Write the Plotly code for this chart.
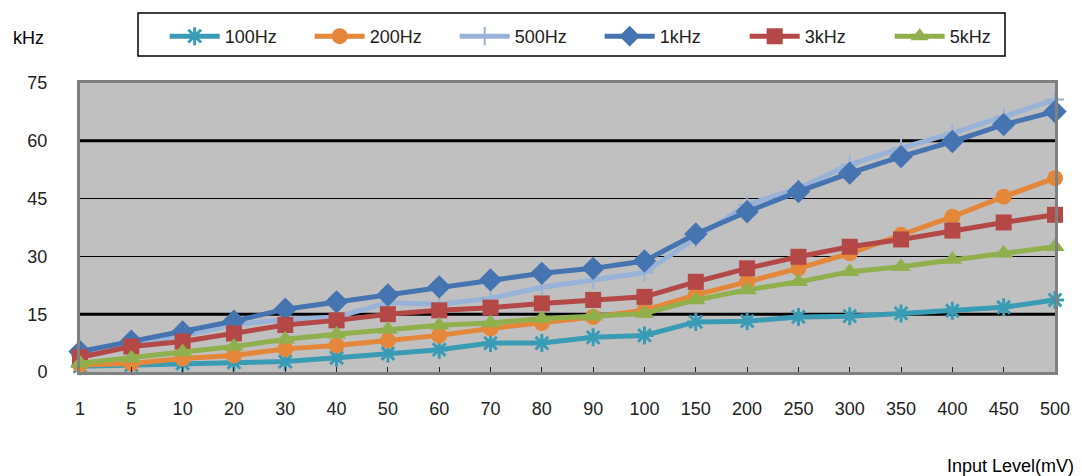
import plotly.graph_objects as go

# Input level categories (mV)
levels = ["1", "5", "10", "20", "30", "40", "50", "60", "70", "80",
          "90", "100", "150", "200", "250", "300", "350", "400", "450", "500"]

# Measured output (kHz) for each test frequency
hz100 = [1.5, 1.8, 2.2, 2.5, 2.7, 3.7, 4.8, 5.8, 7.5, 7.5,
         9.0, 9.5, 13.0, 13.2, 14.3, 14.5, 15.2, 15.9, 16.8, 18.7]
hz200 = [1.8, 2.2, 3.5, 4.3, 6.0, 6.9, 8.2, 9.5, 11.3, 12.7,
         14.3, 16.0, 20.0, 23.4, 26.9, 30.8, 35.6, 40.3, 45.5, 50.3]
hz500 = [4.3, 7.3, 9.3, 12.3, 13.6, 14.3, 18.0, 17.6, 19.1, 22.0,
         23.9, 25.8, 34.7, 43.4, 47.7, 53.8, 58.1, 62.0, 66.3, 70.7]
khz1 = [5.3, 8.0, 10.4, 13.2, 16.3, 18.2, 20.0, 22.1, 23.9, 25.6,
        26.9, 28.8, 35.8, 41.6, 46.8, 51.6, 55.9, 59.8, 64.2, 67.6]
khz3 = [3.8, 6.6, 7.9, 10.0, 12.2, 13.4, 15.0, 16.0, 16.7, 17.8,
        18.7, 19.5, 23.4, 26.9, 29.9, 32.5, 34.4, 36.7, 38.8, 40.8]
khz5 = [2.3, 3.6, 5.2, 6.6, 8.5, 9.8, 11.0, 12.1, 12.7, 13.9,
        14.5, 15.2, 18.7, 21.3, 23.4, 26.0, 27.3, 29.2, 30.8, 32.5]

y_ticks = [0, 15, 30, 45, 60, 75]

series = [
    ("100Hz", hz100, "#3a9bb5", dict(symbol="asterisk-open", size=15,
                                     line=dict(width=3, color="#3a9bb5"))),
    ("200Hz", hz200, "#e5873a", dict(symbol="circle", size=16)),
    ("500Hz", hz500, "#98b2d8", dict(symbol="cross-thin-open", size=13,
                                     line=dict(width=2, color="#98b2d8"))),
    ("1kHz", khz1, "#4674b0", dict(symbol="diamond", size=18)),
    ("3kHz", khz3, "#b44846", dict(symbol="square", size=16)),
    ("5kHz", khz5, "#8fb04c", dict(symbol="triangle-up", size=17)),
]

fig = go.Figure()
for name, vals, color, mk in series:
    fig.add_trace(go.Scatter(
        x=levels, y=vals, name=name, mode="lines+markers",
        line=dict(color=color, width=5),
        marker=dict(color=color, **mk),
        cliponaxis=False,
    ))

font_family = "Liberation Sans, Arial, sans-serif"

fig.update_layout(
    width=1082, height=476,
    margin=dict(l=80, r=27, t=83, b=104),
    paper_bgcolor="white",
    plot_bgcolor="#c0c0c0",
    font=dict(family=font_family, size=18, color="#222"),
    showlegend=True,
    legend=dict(
        orientation="h",
        x=0.533, xanchor="center",
        y=1.225, yanchor="top",
        font=dict(size=18, color="#222"),
        itemwidth=50,
        entrywidth=80,
        bgcolor="rgba(0,0,0,0)",
    ),
    xaxis=dict(
        type="category",
        range=[0, len(levels) - 1],
        showgrid=False,
        showline=True, linecolor="#808080", linewidth=3, mirror=True,
        ticks="inside", ticklen=5, tickwidth=1, tickcolor="#222",
        ticklabelstandoff=18,
        tickfont=dict(size=18, color="#222"),
        zeroline=False,
    ),
    yaxis=dict(
        range=[0, 75],
        tickvals=y_ticks,
        showgrid=True, gridcolor="black", gridwidth=1,
        showline=True, linecolor="#808080", linewidth=3, mirror=True,
        ticks="", ticklabelstandoff=26,
        tickfont=dict(size=18, color="#222"),
        zeroline=False,
    ),
    shapes=[
        # heavier reference lines at 15 and 60 kHz
        dict(type="line", xref="x domain", yref="y", x0=0, x1=1, y0=15, y1=15,
             line=dict(color="black", width=3), layer="below"),
        dict(type="line", xref="x domain", yref="y", x0=0, x1=1, y0=60, y1=60,
             line=dict(color="black", width=3), layer="below"),
        # legend frame
        dict(type="rect", xref="paper", yref="paper",
             x0=(138 - 80) / 975, x1=(1005 - 80) / 975,
             y0=(372 - 56) / 289, y1=(372 - 13) / 289,
             line=dict(color="black", width=1.5), fillcolor="rgba(0,0,0,0)"),
    ],
    annotations=[
        dict(text="kHz", xref="paper", yref="paper",
             x=-69 / 975, y=(372 - 38) / 289, xanchor="left", yanchor="middle",
             showarrow=False, font=dict(size=18, color="black", family=font_family)),
        dict(text="Input Level(mV)", xref="paper", yref="paper",
             x=(1076 - 80) / 975, y=(372 - 466) / 289, xanchor="right", yanchor="middle",
             showarrow=False, font=dict(size=18, color="black", family=font_family)),
    ],
)

fig.write_html("out.html")
